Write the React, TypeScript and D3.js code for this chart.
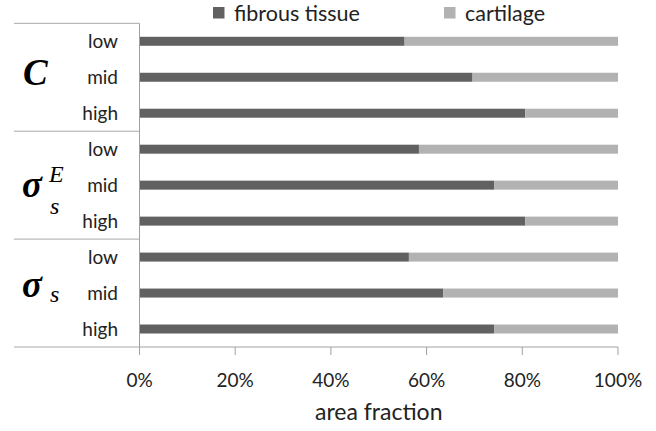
import React from "react";
import * as d3 from "d3";

const rows = ["C-low", "C-mid", "C-high", "SE-low", "SE-mid", "SE-high", "S-low", "S-mid", "S-high"];
const rowLabels = ["low", "mid", "high", "low", "mid", "high", "low", "mid", "high"];
const fibrous = [0.554, 0.696, 0.806, 0.584, 0.741, 0.806, 0.563, 0.635, 0.741];
const cartilage = fibrous.map((f) => 1 - f);
const ticks = [0, 0.2, 0.4, 0.6, 0.8, 1.0];
const seriesNames = ["fibrous tissue", "cartilage"];
const seriesColors = ["#616161", "#b2b2b2"];

const W = 656;
const H = 431;
const X0 = 139.5;
const X1 = 618;
const Y0 = 23.3;
const Y1 = 347;
const LEFT = 14;
const SANS = "Lato, 'Open Sans', sans-serif";
const SERIF = "'Liberation Serif', 'DejaVu Serif', serif";

export default function App() {
  const x = d3.scaleLinear().domain([0, 1]).range([X0, X1]);
  const y = d3.scaleBand<string>().domain(rows).range([Y0, Y1]).paddingInner(0.75).paddingOuter(0.375);
  const groupY = d3.scaleLinear().domain([0, 3]).range([Y0, Y1]);
  const bw = y.bandwidth();
  const fmt = d3.format(".0%");

  return (
    <svg width={W} height={H} style={{ position: "absolute", left: 0, top: 0, background: "#fff" }}>
      {/* legend */}
      <rect x={213} y={7} width={11.5} height={11.5} fill={seriesColors[0]} />
      <text x={234} y={21} fontFamily={SANS} fontSize={21.5} fill="#222">{seriesNames[0]}</text>
      <rect x={444} y={7} width={11.5} height={11.5} fill={seriesColors[1]} />
      <text x={465} y={21} fontFamily={SANS} fontSize={21.5} fill="#222">{seriesNames[1]}</text>

      {/* group separators */}
      {[0, 1, 2, 3].map((g) => (
        <line key={g} x1={LEFT} x2={X0} y1={groupY(g)} y2={groupY(g)} stroke="#a8a8a8" strokeWidth={1} />
      ))}
      {/* bars */}
      {rows.map((r, i) => {
        const yy = y(r)!;
        return (
          <g key={r}>
            <rect x={x(0)} y={yy} width={x(fibrous[i]) - x(0)} height={bw} fill={seriesColors[0]} />
            <rect x={x(fibrous[i])} y={yy} width={x(fibrous[i] + cartilage[i]) - x(fibrous[i])} height={bw} fill={seriesColors[1]} />
            <text x={118} y={yy + bw / 2 + 6.5} textAnchor="end" fontFamily={SANS} fontSize={19} fill="#222">
              {rowLabels[i]}
            </text>
          </g>
        );
      })}

      {/* axes */}
      <line x1={X0} x2={X0} y1={Y0} y2={Y1 + 8} stroke="#a0a0a0" strokeWidth={1} />
      <line x1={X0} x2={X1} y1={Y1} y2={Y1} stroke="#a0a0a0" strokeWidth={1} />
      {ticks.map((t) => (
        <g key={t}>
          <line x1={x(t)} x2={x(t)} y1={Y1} y2={Y1 + 8} stroke="#a0a0a0" strokeWidth={1} />
          <text x={x(t)} y={387} textAnchor="middle" fontFamily={SANS} fontSize={19} fill="#222">
            {fmt(t)}
          </text>
        </g>
      ))}
      <text x={(X0 + X1) / 2} y={420} textAnchor="middle" fontFamily={SANS} fontSize={23} fill="#222">
        area fraction
      </text>

      {/* math group labels */}
      <text x={23} y={85} fontFamily={SERIF} fontStyle="italic" fontWeight="bold" fontSize={37} fill="#000">C</text>
      <text x={22} y={197} fontFamily={SERIF} fontStyle="italic" fontWeight="bold" fontSize={37} fill="#000">σ</text>
      <text x={49} y={182} fontFamily={SERIF} fontStyle="italic" fontSize={24} fill="#000">E</text>
      <text x={50} y={214} fontFamily={SERIF} fontStyle="italic" fontSize={24} fill="#000">s</text>
      <text x={22} y={297} fontFamily={SERIF} fontStyle="italic" fontWeight="bold" fontSize={37} fill="#000">σ</text>
      <text x={50} y={302} fontFamily={SERIF} fontStyle="italic" fontSize={24} fill="#000">s</text>
    </svg>
  );
}
